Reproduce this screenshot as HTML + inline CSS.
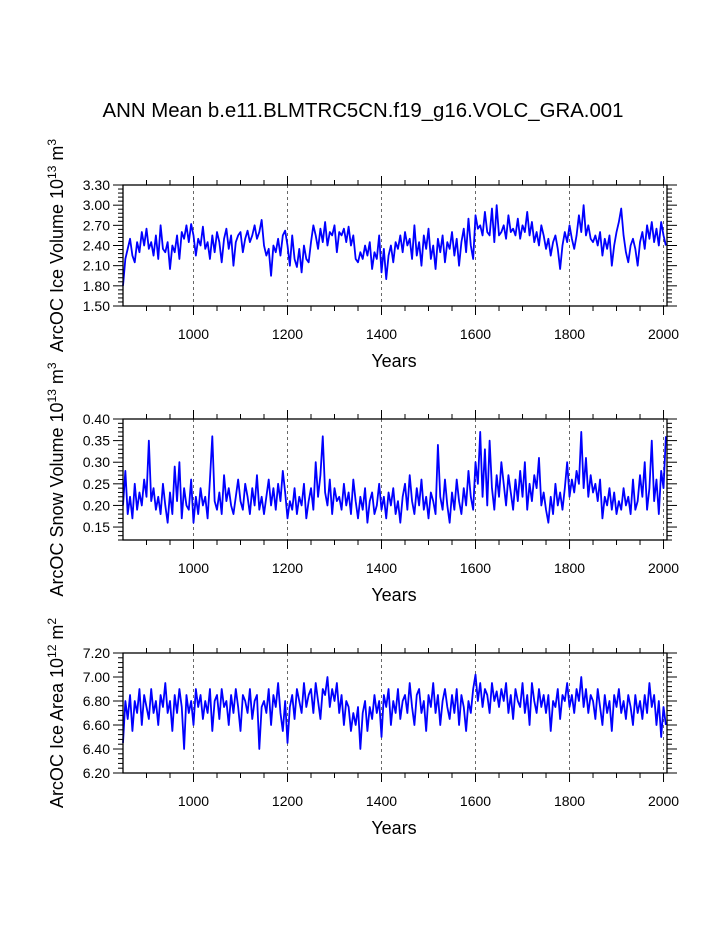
<!DOCTYPE html>
<html><head><meta charset="utf-8"><style>
html,body{margin:0;padding:0;background:#fff}
svg{display:block;font-family:"Liberation Sans",Arial,sans-serif}
</style></head><body>
<svg id="chart" width="723" height="935" xmlns="http://www.w3.org/2000/svg">
<rect width="723" height="935" fill="#fff"/>
<text x="363" y="117" font-size="20.4" text-anchor="middle">ANN Mean b.e11.BLMTRC5CN.f19_g16.VOLC_GRA.001</text>
</svg>
<script>
const startYear = 850, stepYears = 5;
const xTicks = [1000, 1200, 1400, 1600, 1800, 2000];
const iceVolume = [1.80,2.20,2.35,2.50,2.25,2.15,2.45,2.30,2.60,2.40,2.65,2.35,2.45,2.25,2.55,2.20,2.70,2.35,2.30,2.45,
2.05,2.40,2.30,2.55,2.20,2.60,2.50,2.70,2.45,2.72,2.55,2.25,2.50,2.40,2.68,2.35,2.45,2.20,2.55,2.30,
2.60,2.45,2.15,2.50,2.65,2.35,2.55,2.10,2.45,2.55,2.60,2.30,2.50,2.62,2.45,2.55,2.70,2.50,2.60,2.78,
2.40,2.25,2.35,1.95,2.40,2.30,2.50,2.25,2.55,2.62,2.40,2.10,2.55,2.20,2.08,2.35,2.00,2.40,2.20,2.15,
2.45,2.70,2.55,2.35,2.65,2.45,2.75,2.40,2.60,2.55,2.70,2.30,2.60,2.55,2.65,2.45,2.68,2.40,2.55,2.20,
2.15,2.30,2.20,2.40,2.25,2.45,2.05,2.30,2.20,2.55,2.00,2.35,1.90,2.25,2.40,2.15,2.45,2.35,2.55,2.30,
2.60,2.40,2.50,2.20,2.70,2.25,2.45,2.10,2.55,2.35,2.65,2.20,2.40,2.05,2.50,2.30,2.55,2.15,2.45,2.35,
2.60,2.25,2.50,2.10,2.45,2.65,2.30,2.80,2.40,2.20,2.85,2.65,2.70,2.55,2.90,2.60,2.55,2.95,2.45,3.00,
2.55,2.60,2.70,2.50,2.85,2.60,2.65,2.55,2.80,2.50,2.70,2.60,2.90,2.55,2.75,2.45,2.60,2.40,2.70,2.55,
2.35,2.50,2.25,2.45,2.55,2.35,2.05,2.40,2.60,2.45,2.70,2.50,2.35,2.55,2.85,2.60,3.00,2.55,2.70,2.50,
2.45,2.55,2.40,2.60,2.25,2.50,2.35,2.55,2.10,2.40,2.60,2.75,2.95,2.55,2.30,2.15,2.40,2.50,2.35,2.10,
2.45,2.60,2.35,2.70,2.50,2.75,2.45,2.65,2.40,2.75,2.55,2.40];
const snowVolume = [0.20,0.28,0.18,0.22,0.17,0.25,0.19,0.23,0.20,0.26,0.22,0.35,0.21,0.24,0.19,0.22,0.18,0.25,0.20,0.16,
0.23,0.18,0.29,0.21,0.30,0.17,0.24,0.20,0.19,0.26,0.16,0.22,0.18,0.24,0.20,0.22,0.17,0.26,0.36,0.21,
0.19,0.23,0.18,0.27,0.21,0.24,0.20,0.18,0.22,0.26,0.21,0.19,0.25,0.22,0.18,0.24,0.20,0.27,0.19,0.22,
0.18,0.22,0.26,0.20,0.24,0.19,0.25,0.21,0.28,0.23,0.17,0.21,0.19,0.24,0.18,0.22,0.20,0.25,0.17,0.21,
0.24,0.19,0.30,0.22,0.27,0.36,0.23,0.20,0.26,0.18,0.24,0.21,0.22,0.19,0.25,0.20,0.23,0.18,0.26,0.21,
0.17,0.22,0.19,0.24,0.16,0.21,0.23,0.18,0.20,0.25,0.19,0.22,0.17,0.23,0.20,0.24,0.18,0.21,0.16,0.22,
0.25,0.19,0.27,0.21,0.18,0.24,0.20,0.26,0.19,0.22,0.17,0.23,0.21,0.18,0.34,0.22,0.19,0.26,0.20,0.16,
0.23,0.19,0.26,0.21,0.18,0.24,0.20,0.28,0.22,0.19,0.30,0.25,0.37,0.22,0.33,0.20,0.35,0.24,0.19,0.27,
0.22,0.30,0.25,0.20,0.27,0.23,0.19,0.26,0.21,0.28,0.22,0.30,0.19,0.25,0.21,0.27,0.24,0.31,0.20,0.23,
0.19,0.16,0.22,0.18,0.25,0.20,0.23,0.19,0.24,0.30,0.22,0.26,0.23,0.28,0.25,0.37,0.24,0.31,0.22,0.27,
0.23,0.25,0.21,0.26,0.17,0.22,0.20,0.24,0.19,0.23,0.18,0.21,0.19,0.24,0.20,0.22,0.18,0.26,0.19,0.21,
0.27,0.22,0.30,0.19,0.24,0.35,0.21,0.26,0.18,0.28,0.24,0.36];
const iceArea = [6.45,6.80,6.65,6.85,6.55,6.80,6.70,6.90,6.60,6.85,6.75,6.65,6.90,6.70,6.80,6.60,6.85,6.75,6.95,6.70,
6.80,6.55,6.85,6.70,6.90,6.75,6.40,6.85,6.70,6.80,6.60,6.90,6.75,6.85,6.65,6.80,6.70,6.90,6.55,6.80,
6.85,6.65,6.90,6.75,6.80,6.60,6.85,6.70,6.90,6.75,6.55,6.85,6.80,6.70,6.90,6.65,6.80,6.85,6.40,6.75,
6.80,6.70,6.90,6.60,6.85,6.75,6.95,6.70,6.55,6.80,6.45,6.75,6.85,6.65,6.90,6.80,6.70,6.95,6.75,6.85,
6.90,6.70,6.95,6.80,6.65,6.90,6.85,7.00,6.75,6.90,6.80,6.95,6.70,6.85,6.60,6.80,6.75,6.55,6.70,6.60,
6.75,6.40,6.70,6.80,6.55,6.75,6.65,6.85,6.70,6.80,6.50,6.85,6.75,6.90,6.60,6.80,6.70,6.90,6.65,6.80,
6.85,6.70,6.95,6.75,6.60,6.85,6.90,6.70,6.80,6.55,6.85,6.75,6.95,6.70,6.85,6.60,6.80,6.90,6.75,6.65,
6.85,6.70,6.90,6.60,6.85,6.75,6.55,6.80,6.70,6.90,7.02,6.80,6.95,6.75,6.90,6.85,6.70,6.95,6.80,6.88,
6.75,6.90,6.80,6.95,6.70,6.85,6.65,6.90,6.80,6.75,6.95,6.70,6.85,6.60,6.95,6.80,6.70,6.90,6.75,6.85,
6.70,6.85,6.55,6.80,6.75,6.90,6.65,6.85,6.80,6.95,6.75,6.85,6.70,6.90,6.80,7.00,6.75,6.90,6.70,6.85,
6.80,6.65,6.90,6.75,6.60,6.85,6.70,6.80,6.55,6.85,6.75,6.90,6.70,6.80,6.65,6.85,6.75,6.60,6.85,6.70,
6.80,6.65,6.85,6.70,6.95,6.75,6.85,6.60,6.80,6.50,6.75,6.60];
const iceVolumeTicks = ["1.50","1.80","2.10","2.40","2.70","3.00","3.30"];
const snowVolumeTicks = ["0.15","0.20","0.25","0.30","0.35","0.40"];
const iceAreaTicks = ["6.20","6.40","6.60","6.80","7.00","7.20"];

const NS = "http://www.w3.org/2000/svg";
const svg = document.getElementById('chart');
const X0 = 123, X1 = 667, YR0 = 850, YR1 = 2007.4;
function xScale(yr){ return X0 + (yr - YR0) / (YR1 - YR0) * (X1 - X0); }
function mk(tag, attrs, parent){
  const e = document.createElementNS(NS, tag);
  for (const k in attrs) e.setAttribute(k, attrs[k]);
  (parent || svg).appendChild(e);
  return e;
}

function panel(name, top, bottom, ymin, ymax, minorStep, ticks, values, labelMain, labelExp, labelUnit, unitExp){
  const g = mk('g', {});
  
  
  const yScale = v => bottom - (v - ymin) / (ymax - ymin) * (bottom - top);
  xTicks.forEach(t => {
    const l = mk('line', {x1: xScale(t), x2: xScale(t), y1: top, y2: bottom, stroke: '#444', 'stroke-width': 0.8, 'stroke-dasharray': '3,3'}, g);
    
    
  });
  let d = '';
  values.forEach((v, i) => { d += (i ? 'L' : 'M') + xScale(startYear + i * stepYears).toFixed(2) + ' ' + yScale(v).toFixed(2); });
  const p = mk('path', {d: d, fill: 'none', stroke: '#0000ff', 'stroke-width': 1.8, 'stroke-linejoin': 'round'}, g);
  
  
  const r = mk('rect', {x: X0, y: top, width: X1 - X0, height: bottom - top, fill: 'none', stroke: '#000', 'stroke-width': 1.3}, g);
  
  
  for (let yr = 900; yr <= 2000; yr += 50) {
    const major = yr % 200 === 0;
    const len = major ? 9 : 5;
    const x = xScale(yr);
    mk('line', {x1: x, x2: x, y1: top, y2: top - len, stroke: '#000', 'stroke-width': 1}, g);
    mk('line', {x1: x, x2: x, y1: bottom, y2: bottom + len, stroke: '#000', 'stroke-width': 1}, g);
  }
  xTicks.forEach(t => {
    const tx = mk('text', {x: xScale(t), y: bottom + 33, 'font-size': 14, 'text-anchor': 'middle'}, g);
    tx.textContent = t;
    
    
  });
  const nMinor = Math.round((ymax - ymin) / minorStep);
  const majorStep = parseFloat(ticks[1]) - parseFloat(ticks[0]);
  for (let k = 0; k <= nMinor; k++) {
    const v = ymin + k * minorStep;
    const y = yScale(v);
    const rel = (v - parseFloat(ticks[0])) / majorStep;
    const major = Math.abs(rel - Math.round(rel)) < 1e-6;
    const len = major ? 10 : 5;
    mk('line', {x1: X0, x2: X0 - len, y1: y, y2: y, stroke: '#000', 'stroke-width': 1}, g);
    mk('line', {x1: X1, x2: X1 + len, y1: y, y2: y, stroke: '#000', 'stroke-width': 1}, g);
  }
  ticks.forEach(t => {
    const tx = mk('text', {x: 110, y: yScale(parseFloat(t)) + 5, 'font-size': 14, 'text-anchor': 'end'}, g);
    tx.textContent = t;
    
    
  });
  const xt = mk('text', {x: 394, y: bottom + 61, 'font-size': 18, 'text-anchor': 'middle'}, g);
  xt.textContent = 'Years';
  
  
  const cy = (top + bottom) / 2;
  const yt = mk('text', {transform: 'translate(63,' + cy + ') rotate(-90)', 'font-size': 18, 'text-anchor': 'middle'}, g);
  
  
  const s1 = mk('tspan', {}, yt); s1.textContent = labelMain + ' 10';
  const s2 = mk('tspan', {dy: -7, 'font-size': 12}, yt); s2.textContent = labelExp;
  const s3 = mk('tspan', {dy: 7}, yt); s3.textContent = ' ' + labelUnit;
  const s4 = mk('tspan', {dy: -7, 'font-size': 12}, yt); s4.textContent = unitExp;
}

panel('ice-volume', 185, 306, 1.5, 3.3, 0.06, iceVolumeTicks, iceVolume, 'ArcOC Ice Volume', '13', 'm', '3');
panel('snow-volume', 419, 540, 0.12, 0.40, 0.01, snowVolumeTicks, snowVolume, 'ArcOC Snow Volume', '13', 'm', '3');
panel('ice-area', 653, 773, 6.2, 7.2, 0.04, iceAreaTicks, iceArea, 'ArcOC Ice Area', '12', 'm', '2');
</script>
</body></html>
